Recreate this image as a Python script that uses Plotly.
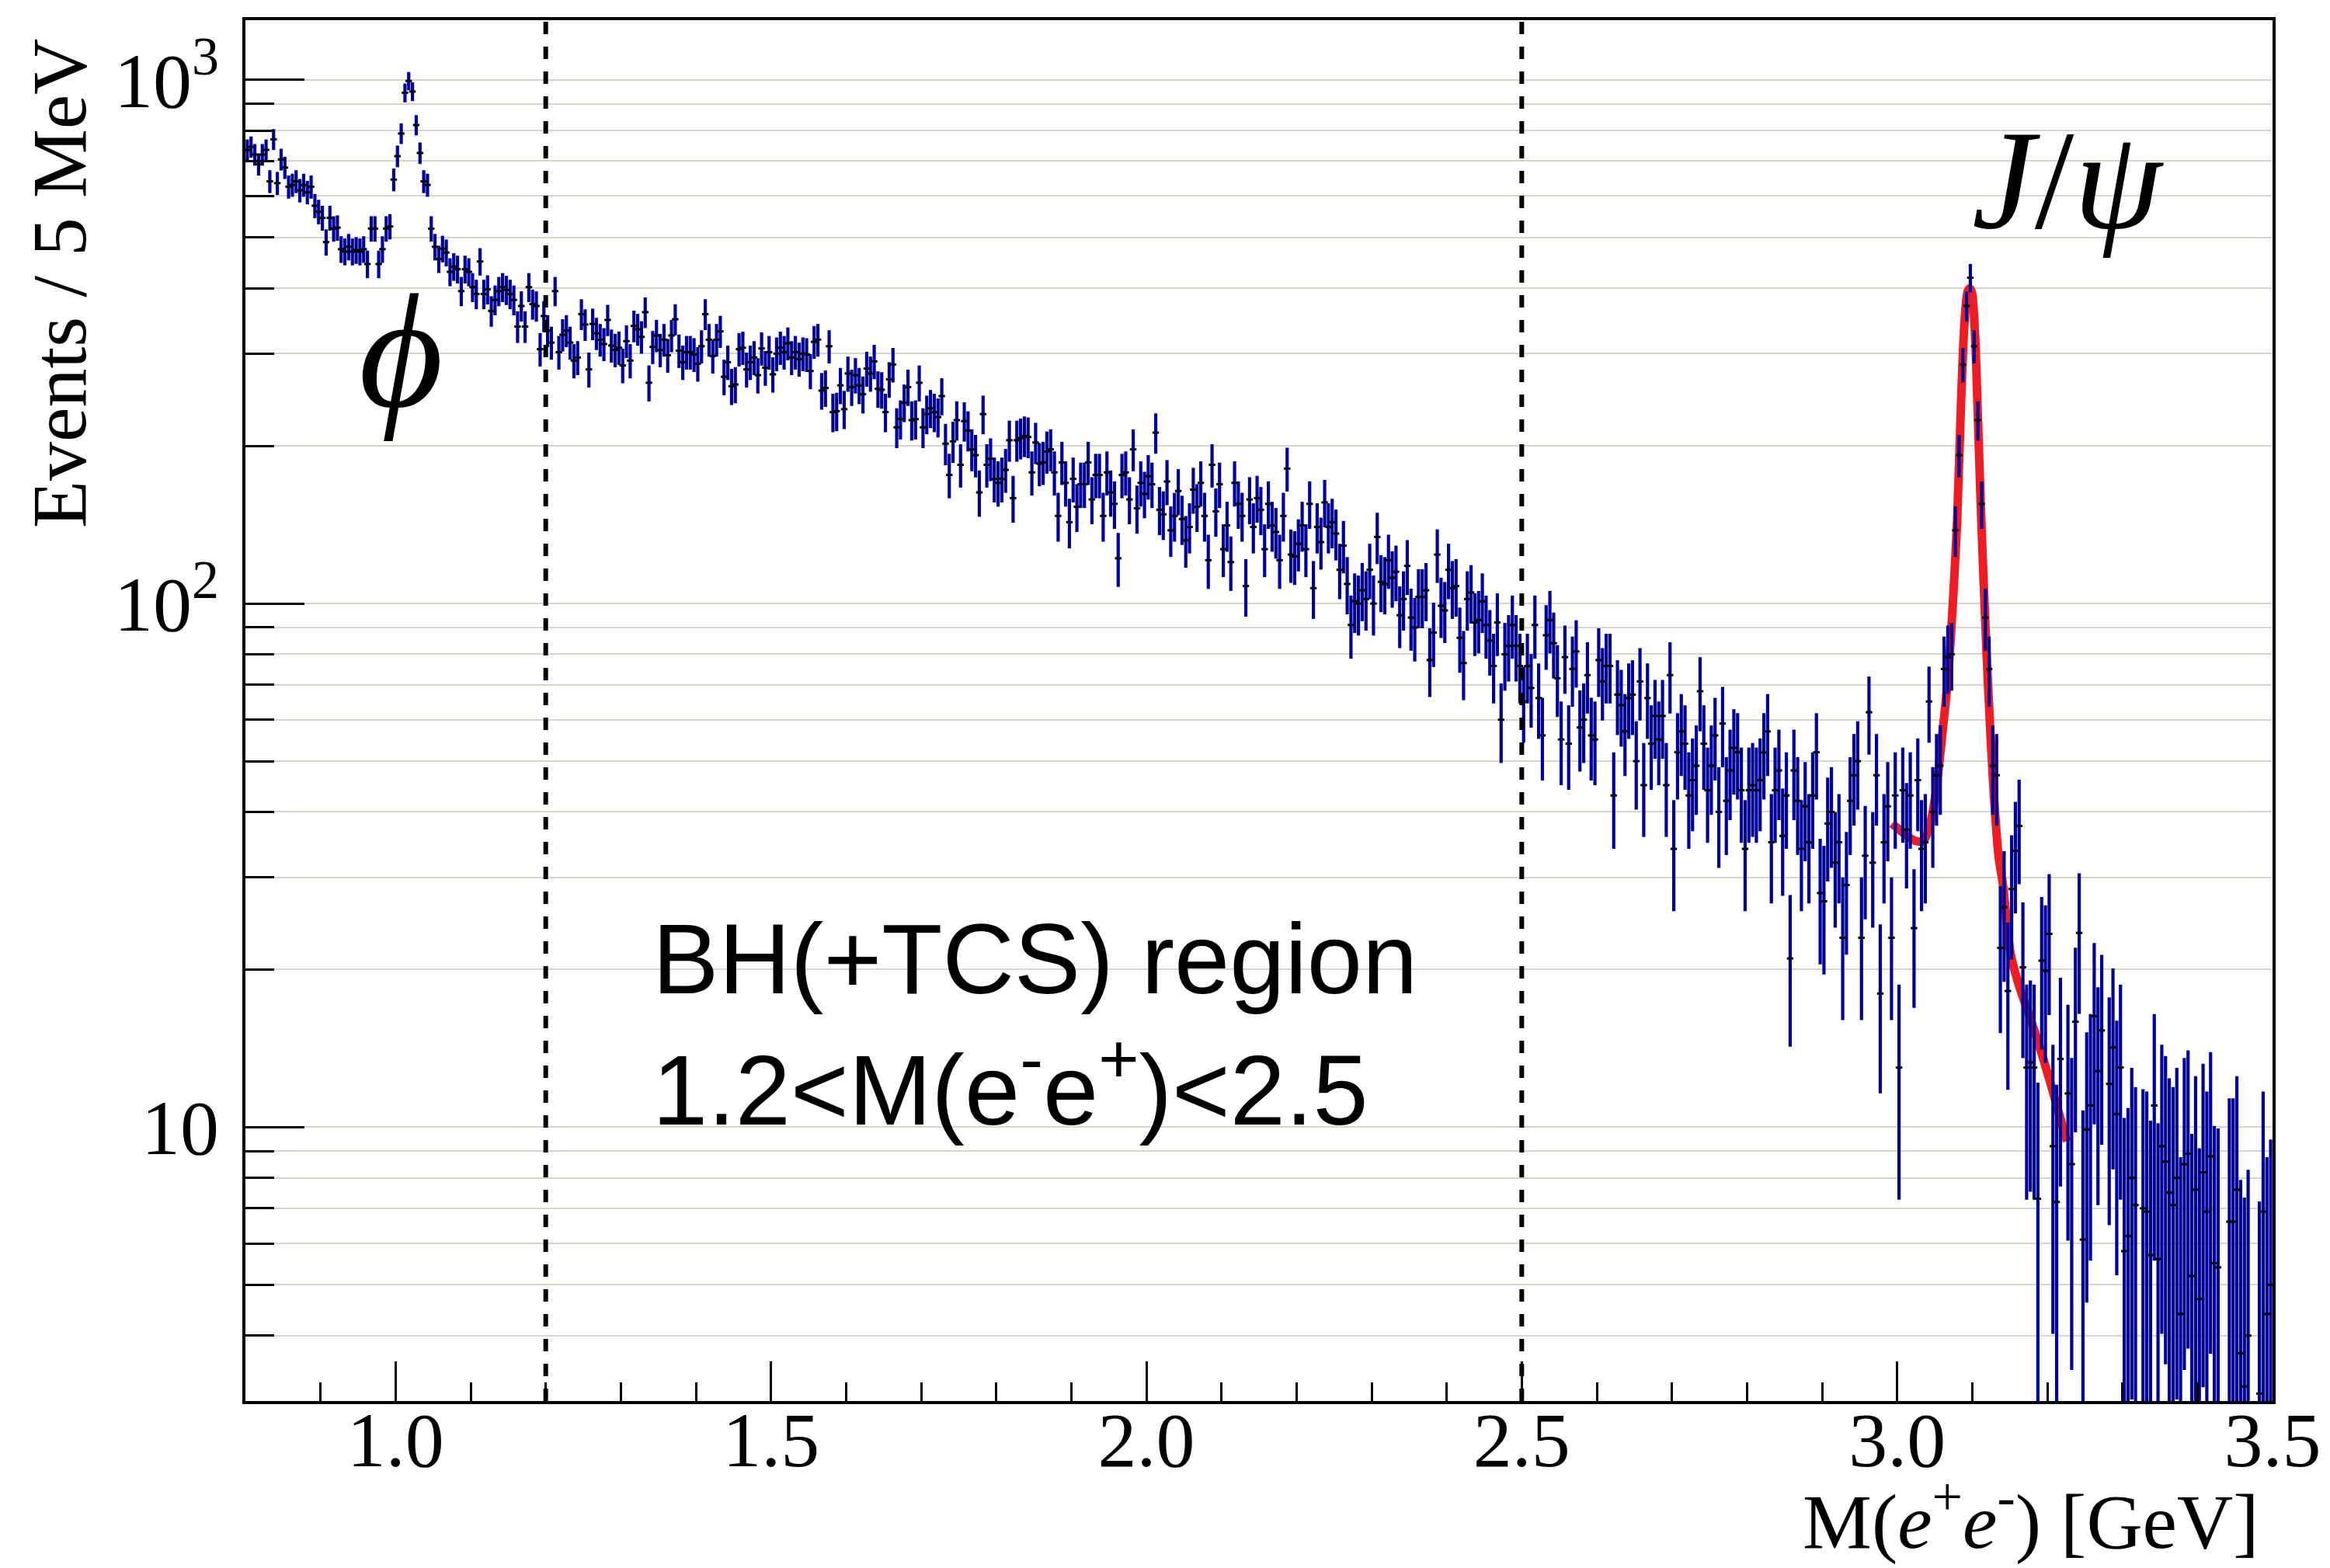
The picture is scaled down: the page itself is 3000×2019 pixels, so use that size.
import numpy as np
import plotly.graph_objects as go

# ---------------- data ----------------
BIN_LO = 0.8      # GeV, lower edge of first bin
BIN_W = 0.005     # GeV, 5 MeV bins

# events per 5 MeV bin, read strip by strip
counts_080_119 = [735, 745, 720, 690, 720, 735, 640, 770, 635, 705,
                  680, 625, 630, 640, 615, 630, 610, 625, 575, 560,
                  545, 490, 545, 520, 522, 475, 470, 480, 470, 473,
                  470, 475, 445, 520, 520, 445, 475, 520, 525, 645,
                  715, 790, 945, 995, 950, 820, 725, 640, 630, 520,
                  480, 455, 476, 468, 430, 440, 435, 395, 435, 430,
                  402, 390, 450, 390, 398, 362, 380, 395, 402, 397,
                  390, 380, 338, 370, 338, 402, 373, 370]
counts_119_158 = [306, 354, 332, 315, 395, 302, 326, 332, 315, 291,
                  295, 357, 341, 280, 342, 328, 319, 313, 348, 311,
                  305, 308, 285, 317, 291, 339, 334, 323, 360, 264,
                  309, 325, 305, 319, 298, 325, 349, 304, 289, 302,
                  302, 299, 287, 310, 357, 319, 297, 319, 331, 271,
                  289, 260, 262, 306, 308, 280, 289, 295, 273, 307,
                  282, 302, 274, 300, 308, 302, 314, 295, 302, 293,
                  300, 299, 278, 316, 319, 255, 258, 310]
counts_158_197 = [232, 233, 261, 235, 275, 259, 273, 261, 251, 281,
                  275, 290, 257, 256, 232, 268, 286, 217, 225, 242,
                  259, 224, 225, 264, 217, 230, 236, 232, 227, 249,
                  202, 176, 204, 224, 184, 223, 214, 197, 192, 163,
                  230, 184, 189, 173, 170, 173, 180, 205, 159, 205,
                  207, 209, 208, 178, 203, 185, 186, 195, 197, 178,
                  147, 186, 170, 143, 173, 153, 169, 169, 186, 158,
                  176, 176, 147, 178, 163, 155, 122, 176]
counts_197_236 = [178, 158, 197, 152, 170, 162, 175, 169, 212, 151,
                  148, 171, 138, 147, 164, 145, 132, 140, 165, 153,
                  170, 147, 121, 184, 150, 169, 127, 141, 120, 170,
                  155, 147, 108, 158, 140, 159, 151, 127, 155, 141,
                  137, 121, 147, 181, 124, 123, 130, 141, 127, 155,
                  107, 140, 131, 156, 140, 143, 136, 116, 129, 109,
                  91, 101, 100, 106, 102, 116, 100, 134, 110, 109,
                  121, 112, 115, 95, 102, 118, 94, 90]
counts_236_275 = [103, 103, 106, 78, 88, 124, 99, 97, 116, 107,
                  108, 86, 77, 102, 105, 92, 93, 101, 91, 85,
                  76, 92, 60, 80, 83, 91, 83, 76, 65, 76,
                  69, 91, 66, 56, 87, 93, 84, 72, 55, 79,
                  54, 75, 81, 58, 60, 73, 56, 55, 78, 71,
                  76, 76, 43, 67, 64, 57, 66, 67, 50, 71,
                  45, 66, 54, 61, 55, 61, 45, 73, 34, 52,
                  57, 54, 43, 46, 49, 68, 54, 44]
counts_275_314 = [49, 56, 40, 59, 42, 48, 53, 52, 44, 34,
                  44, 45, 44, 46, 52, 57, 35, 44, 48, 36,
                  43, 21, 48, 42, 34, 41, 35, 43, 52, 28,
                  27, 38, 40, 32, 35, 23, 29, 42, 47, 50,
                  23, 33, 62, 32, 47, 18, 35, 41, 23, 43,
                  13, 44, 37, 43, 24, 46, 34, 35, 65, 40,
                  47, 49, 75, 79, 80, 138, 192, 286, 370, 419,
                  310, 224, 155, 94, 75, 49, 47, 22]
counts_314_350 = [26.3, 18.2, 28.5, 33.7, 37.6, 20.2, 13.0, 13.3, 13.0, 7.3,
                  20.8, 19.9, 23.4, 9.2, 7.2, 13.5, 0, 11.6, 8.5, 15.9,
                  23.5, 6.1, 9.9, 11.0, 16.3, 12.8, 15.3, 0, 12.1, 14.2,
                  10.6, 13.0, 5.8, 6.2, 8.0, 7.1, 0, 7.0, 6.9, 5.7,
                  11.0, 5.6, 9.2, 8.6, 7.5, 7.1, 8.0, 4.4, 8.5, 8.9,
                  5.2, 7.6, 4.7, 8.2, 6.9, 8.8, 5.5, 5.4, 0, 0,
                  6.6, 6.6, 7.6, 3.7, 3.2, 4.0, 0, 0, 3.1, 6.9,
                  4.4, 5.0]

# J/psi fit curve
fit_x = [2.993, 3.005, 3.015, 3.025, 3.035, 3.043, 3.051, 3.060, 3.068, 3.075,
         3.080, 3.085, 3.090, 3.094, 3.097, 3.100, 3.104, 3.107, 3.112, 3.117,
         3.121, 3.128, 3.135, 3.141, 3.151, 3.163, 3.175, 3.190, 3.203, 3.215,
         3.226]
fit_y = [38.0, 36.8, 35.8, 35.2, 35.2, 37.5, 43.0, 56.0, 73.0, 105.0,
         145.0, 240.0, 350.0, 395.0, 400.0, 390.0, 320.0, 240.0, 145.0, 95.0,
         70.0, 45.0, 33.0, 29.0, 21.5, 18.5, 16.5, 14.2, 12.3, 10.7,
         9.4]

x_tickvals = [1.0, 1.5, 2.0, 2.5, 3.0, 3.5]
x_ticktext = ["1.0", "1.5", "2.0", "2.5", "3.0", "3.5"]
x_minorvals = [0.9, 1.1, 1.2, 1.3, 1.4, 1.6, 1.7, 1.8, 1.9, 2.1, 2.2, 2.3, 2.4,
               2.6, 2.7, 2.8, 2.9, 3.1, 3.2, 3.3, 3.4]
y_tickvals = [10, 100, 1000]
y_ticktext = ["10", "10<sup>2</sup>", "10<sup>3</sup>"]
y_minorvals = [3, 4, 5, 6, 7, 8, 9, 20, 30, 40, 50, 60, 70, 80, 90,
               200, 300, 400, 500, 600, 700, 800, 900]
region_cuts = [1.2, 2.5]

X_RANGE = [0.8, 3.5]
Y_RANGE = [3.0, 1300.0]

# ---------------- build ----------------
counts = (counts_080_119 + counts_119_158 + counts_158_197 + counts_197_236
          + counts_236_275 + counts_275_314 + counts_314_350)
counts = np.array(counts, dtype=float)
centers = BIN_LO + BIN_W * (np.arange(len(counts)) + 0.5)
mask = counts > 0
xv = centers[mask]
yv = counts[mask]
# error bar half-length (weighted-histogram errors, matched to bar lengths)
err = np.sqrt(1.6 * yv + 12.0)
err_lo = np.minimum(err, yv * 0.999)

SERIF = "Liberation Serif, Times New Roman, serif"
SANS = "Liberation Sans, Arial, sans-serif"
BLUE = "#000099"
GRID = "#d6d6cc"

fig = go.Figure()

fig.add_trace(go.Scatter(
    x=fit_x, y=fit_y, mode="lines",
    line=dict(color="#ee1d23", width=11, shape="spline", smoothing=0.8),
    hoverinfo="skip", showlegend=False))

fig.add_trace(go.Scatter(
    x=xv, y=yv, mode="markers",
    marker=dict(symbol="line-ew", size=6, color="black",
                line=dict(width=3, color="black")),
    error_y=dict(type="data", symmetric=False, array=err, arrayminus=err_lo,
                 thickness=4.2, width=0, color=BLUE),
    showlegend=False))

for xc in region_cuts:
    fig.add_shape(type="line", x0=xc, x1=xc, xref="x", yref="paper", y0=0, y1=1,
                  line=dict(color="black", width=6, dash="16px,16px"))

L, R, T, B = 316, 74, 26, 215
W, H = 3000, 2019
pw, ph = W - L - R, H - T - B


def px(xpix):
    return (xpix - L) / pw


def py(ypix):
    return (H - B - ypix) / ph


annotations = [
    dict(text="Events / 5 MeV", textangle=-90, x=px(77), y=py(48),
         xanchor="center", yanchor="top", font=dict(family=SERIF, size=100)),
    dict(text="M(<i>e</i><sup>+</sup><i>e</i><sup>-</sup>) [GeV]",
         x=px(2911), y=py(1952), xanchor="right", yanchor="middle",
         font=dict(family=SERIF, size=100)),
    dict(text="<i>ϕ</i>", x=px(516), y=py(452), xanchor="center", yanchor="middle",
         font=dict(family="Liberation Serif, DejaVu Serif, serif", size=210)),
    dict(text="<i>J</i>/<i>ψ</i>", x=px(2662), y=py(232), xanchor="center",
         yanchor="middle", font=dict(family=SERIF, size=182)),
    dict(text="BH(+TCS) region", x=px(838), y=py(1234), xanchor="left",
         yanchor="middle", font=dict(family=SANS, size=128)),
    dict(text="1.2<M(e<sup>-</sup>e<sup>+</sup>)<2.5", x=px(838), y=py(1394),
         xanchor="left", yanchor="middle", font=dict(family=SANS, size=128)),
]
for a in annotations:
    a.update(xref="paper", yref="paper", showarrow=False)
    a["font"]["color"] = "black"

fig.update_layout(
    width=W, height=H, autosize=False,
    margin=dict(l=L, r=R, t=T, b=B, pad=0),
    paper_bgcolor="white", plot_bgcolor="white",
    font=dict(family=SERIF, color="black"),
    annotations=annotations,
    showlegend=False,
)

fig.update_xaxes(
    range=X_RANGE, showline=True, linewidth=4, linecolor="black", mirror=True,
    showgrid=False, zeroline=False,
    tickmode="array", tickvals=x_tickvals, ticktext=x_ticktext,
    ticks="inside", ticklen=51, tickwidth=3, tickcolor="black",
    tickfont=dict(family=SERIF, size=100, color="black"),
    ticklabelstandoff=-40,
    minor=dict(tickmode="array", tickvals=x_minorvals, ticks="inside",
               ticklen=24, tickwidth=3, tickcolor="black", showgrid=False),
)
fig.update_yaxes(
    type="log", range=[np.log10(Y_RANGE[0]), np.log10(Y_RANGE[1])],
    showline=True, linewidth=4, linecolor="black", mirror=True,
    showgrid=True, gridcolor=GRID, gridwidth=2, zeroline=False,
    tickmode="array", tickvals=y_tickvals, ticktext=y_ticktext,
    ticks="inside", ticklen=76, tickwidth=3, tickcolor="black",
    tickfont=dict(family=SERIF, size=100, color="black"),
    ticklabelstandoff=10,
    minor=dict(tickmode="array", tickvals=y_minorvals, ticks="inside",
               ticklen=37, tickwidth=3, tickcolor="black",
               showgrid=True, gridcolor=GRID, gridwidth=2),
)

fig.write_html("out.html")
